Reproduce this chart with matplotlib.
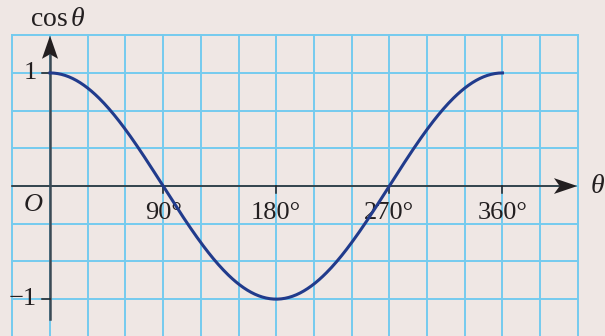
"""
Graph of y = cos(theta) for 0 to 360 degrees on a squared grid.
"""
import numpy as np
import matplotlib.pyplot as plt
from matplotlib.patches import Polygon

plt.rcParams['font.family'] = ['Liberation Serif', 'DejaVu Serif']
plt.rcParams['mathtext.fontset'] = 'custom'
plt.rcParams['mathtext.rm'] = 'Liberation Serif'
plt.rcParams['mathtext.it'] = 'Liberation Serif:italic'

# curve data: the function that the chart plots
theta_deg = np.arange(0, 361, 1)
cos_values = np.cos(np.radians(theta_deg))

# axis labels
x_ticks = [90, 180, 270, 360]
x_tick_labels = ['90°', '180°', '270°', '360°']
y_ticks = [1, -1]
y_tick_labels = ['1', '\u22121']

bg = '#efe7e4'
grid_col = '#74cbef'
curve_col = '#213b8c'
ink = '#231f20'

fig = plt.figure(figsize=(6.05, 3.36), dpi=100, facecolor=bg)
ax = fig.add_axes([0, 0, 1, 1])
ax.set_facecolor(bg)
ax.set_xlim(-39.8, 441.6)
ax.set_ylim(-1.326, 1.645)
ax.axis('off')

# grid, 30 degrees by 1/3
for gx in np.arange(-30, 421, 30):
    ax.plot([gx, gx], [-1.5, 4 / 3], color=grid_col, lw=1.4, zorder=1)
for gy in np.arange(-4, 5) / 3:
    ax.plot([-30, 420], [gy, gy], color=grid_col, lw=1.4, zorder=1)

# axes with notched arrowheads
ax.plot([-30, 405], [0, 0], color=ink, lw=1.1, zorder=3)
ax.add_patch(Polygon([(419.6, 0), (401.0, 0.07), (405.5, 0), (401.0, -0.07)],
                     closed=True, color=ink, lw=0, zorder=4))
ax.plot([0, 0], [-1.176, 1.16], color='#3b4a55', lw=1.8, zorder=3)
ax.add_patch(Polygon([(0, 1.33), (6.4, 1.125), (0, 1.165), (-6.4, 1.125)],
                     closed=True, color=ink, lw=0, zorder=4))

# ticks
for t, lab in zip(x_ticks, x_tick_labels):
    ax.plot([t, t], [0, -0.06], color=ink, lw=1.1, zorder=3)
    ax.text(t, -0.24, lab, ha='center', va='center', fontsize=19, color=ink, zorder=5)
for t, lab in zip(y_ticks, y_tick_labels):
    ax.plot([-6.5, 0], [t, t], color=ink, lw=1.1, zorder=3)
    ax.text(-10.5, t, lab, ha='right', va='center', fontsize=19, color=ink, zorder=5)

ax.text(-13.5, -0.165, 'O', ha='center', va='center', fontsize=19, style='italic', color=ink)
ax.text(436, 0.0, r'$\theta$', ha='center', va='center', fontsize=20, color=ink)
ax.text(6, 1.475, r'$\mathrm{cos}\,\theta$', ha='center', va='center', fontsize=20, color=ink)

ax.plot(theta_deg, cos_values, color=curve_col, lw=2.2, zorder=6)

fig.savefig('out.png', dpi=100, facecolor=bg)
